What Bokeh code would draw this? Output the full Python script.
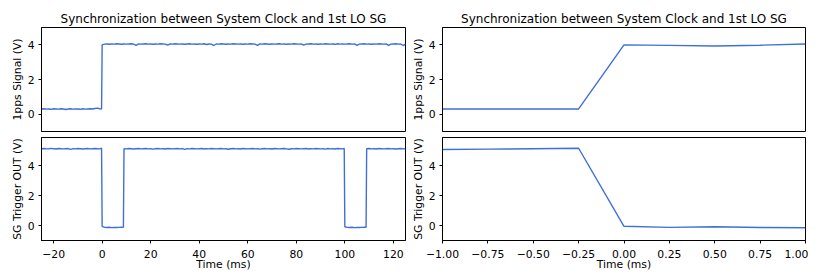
import numpy as np
from bokeh.plotting import figure
from bokeh.layouts import row, column
from bokeh.models import Range1d, FixedTicker, CustomJSTickFormatter
from bokeh.embed import file_html
from bokeh.resources import INLINE

TITLE = "Synchronization between System Clock and 1st LO SG"
YLAB_TOP = "1pps Signal (V)"
YLAB_BOT = "SG Trigger OUT (V)"
XLAB = "Time (ms)"

# ---- wide view (ms) : 1pps signal ----
pps_pre = [0.30, 0.31, 0.29, 0.30, 0.28, 0.31, 0.30, 0.29, 0.31, 0.30,
           0.27, 0.30, 0.31, 0.29, 0.30, 0.30, 0.28, 0.31, 0.29, 0.30,
           0.31, 0.30, 0.33, 0.35, 0.31, 0.30]            # t=-25..-1, -0.25
pps_post = [4.00, 4.04, 4.05, 4.03, 4.05, 4.04, 4.06, 4.05, 4.03, 4.05,
            4.04, 4.05, 4.06, 4.04, 3.97, 4.05, 4.04, 4.05, 4.06, 4.04,
            4.05, 4.03, 4.05, 4.04, 4.06, 4.05, 4.04, 3.98, 4.05, 4.04,
            4.06, 4.05, 4.04, 4.05, 4.03, 4.05, 4.06, 4.04, 4.05, 4.03,
            4.05, 4.04, 4.06, 4.02, 4.05, 4.04, 3.96, 4.05, 4.04, 4.06,
            4.05, 4.03, 4.05, 4.04, 4.06, 4.05, 4.04, 4.05, 4.03, 4.05,
            4.04, 4.06, 4.05, 4.04, 3.97, 4.05, 4.04, 4.06, 4.05, 4.03,
            4.05, 4.04, 4.05, 4.06, 4.04, 4.05, 4.03, 4.05, 4.04, 4.06,
            4.05, 4.04, 4.05, 3.98, 4.04, 4.05, 4.06, 4.04, 4.05, 4.03,
            4.05, 4.04, 4.06, 4.05, 4.04, 4.05, 4.03, 4.06, 4.04, 4.05,
            4.04, 4.05, 4.06, 4.04, 4.05, 3.97, 4.04, 4.05, 4.06, 4.04,
            4.05, 4.03, 4.05, 4.04, 4.06, 4.05, 4.04, 4.05, 3.97, 4.04,
            4.05, 4.06, 4.04, 4.05, 3.96, 4.04]              # t=0..125
pps_t = np.concatenate([np.arange(-25, 0), [-0.25], np.arange(0, 126)])
pps_v = pps_pre + pps_post

# ---- wide view (ms) : SG trigger out ----
trig_pre = [5.15, 5.16, 5.14, 5.15, 5.17, 5.15, 5.13, 5.16, 5.15, 5.14,
            5.15, 5.16, 5.10, 5.15, 5.14, 5.16, 5.15, 5.13, 5.15, 5.16,
            5.14, 5.15, 5.16, 5.15, 5.14, 5.18]           # t=-25..-1, -0.25
trig_low1 = [-0.05, -0.12, -0.13, -0.11, -0.14, -0.12, -0.13, -0.12, -0.11,
             -0.12]                                        # t=0..8, 8.75
trig_high1 = [5.15, 5.14, 5.16, 5.15, 5.13, 5.15, 5.16, 5.14, 5.15, 5.16,
              5.14, 5.15, 5.12, 5.15, 5.16, 5.14, 5.15, 5.13, 5.16, 5.15,
              5.14, 5.15, 5.16, 5.14, 5.15, 5.10, 5.15, 5.14, 5.16, 5.15,
              5.14, 5.15, 5.16, 5.13, 5.15, 5.14, 5.16, 5.15, 5.14, 5.15,
              5.16, 5.14, 5.15, 5.11, 5.15, 5.16, 5.14, 5.15, 5.13, 5.16,
              5.15, 5.14, 5.15, 5.16, 5.14, 5.15, 5.12, 5.15, 5.16, 5.14,
              5.15, 5.13, 5.16, 5.15, 5.14, 5.15, 5.16, 5.14, 5.11, 5.15,
              5.14, 5.16, 5.15, 5.14, 5.15, 5.16, 5.13, 5.15, 5.14, 5.16,
              5.15, 5.14, 5.15, 5.12, 5.16, 5.14, 5.15, 5.13, 5.16, 5.15,
              5.14, 5.16]                                  # t=9..99, 99.75
trig_low2 = [-0.08, -0.12, -0.13, -0.11, -0.14, -0.12, -0.13, -0.12, -0.11,
             -0.12]                                        # t=100..108, 108.75
trig_high2 = [5.15, 5.16, 5.14, 5.15, 5.13, 5.16, 5.15, 5.14, 5.15, 5.16,
              5.14, 5.15, 5.13, 5.15, 5.16, 5.14, 5.15]   # t=109..125
trig_t = np.concatenate([np.arange(-25, 0), [-0.25], np.arange(0, 9), [8.75],
                         np.arange(9, 100), [99.75], np.arange(100, 109), [108.75],
                         np.arange(109, 126)])
trig_v = trig_pre + trig_low1 + trig_high1 + trig_low2 + trig_high2

# ---- zoomed view (ms) ----
zoom_t = [-1.0, -0.75, -0.5, -0.25, 0.0, 0.25, 0.5, 0.75, 1.0]
zoom_pps = [0.30, 0.30, 0.30, 0.30, 4.00, 3.97, 3.93, 3.98, 4.05]
zoom_trig = [5.10, 5.12, 5.15, 5.18, -0.05, -0.12, -0.08, -0.13, -0.15]

LINE = "#3f6fd9"
FONT = "DejaVu Sans"
LBL = "10.8px"


def style(p, ylab, show_x, xfmt_code, xticks):
    p.outline_line_color = "black"
    p.outline_line_width = 1
    p.grid.visible = False
    p.background_fill_color = "white"
    p.border_fill_color = "white"
    for ax in (p.xaxis[0], p.yaxis[0]):
        ax.axis_line_color = "black"
        ax.major_tick_line_color = "black"
        ax.major_tick_out = 3
        ax.major_tick_in = 0
        ax.minor_tick_line_color = None
        ax.major_label_text_font = FONT
        ax.major_label_text_font_size = LBL
        ax.major_label_text_color = "black"
        ax.axis_label_text_font = FONT
        ax.axis_label_text_font_size = LBL
        ax.axis_label_text_font_style = "normal"
        ax.axis_label_text_color = "black"
    p.yaxis[0].ticker = FixedTicker(ticks=[0, 2, 4])
    p.yaxis[0].axis_label = ylab
    p.yaxis[0].major_label_standoff = 4
    p.yaxis[0].axis_label_standoff = 1
    if show_x:
        p.xaxis[0].ticker = FixedTicker(ticks=xticks)
        p.xaxis[0].formatter = CustomJSTickFormatter(code=xfmt_code)
        p.xaxis[0].axis_label = XLAB
        p.xaxis[0].major_label_standoff = 6
        p.xaxis[0].axis_label_standoff = -3
    else:
        p.xaxis.visible = False


fmt0 = "return (tick < 0 ? '\u2212' : '') + Math.abs(tick).toFixed(0);"
fmt2 = "return (tick < -1e-9 ? '\u2212' : '') + Math.abs(tick).toFixed(2);"
ticks_wide = [-20, 0, 20, 40, 60, 80, 100, 120]
ticks_zoom = [-1.0, -0.75, -0.5, -0.25, 0.0, 0.25, 0.5, 0.75, 1.0]


def make_top(xr, t, v, w, bl):
    p = figure(width=w, height=134, output_backend="svg", toolbar_location=None,
               x_range=xr, y_range=Range1d(-1, 5),
               min_border_left=bl, min_border_right=3, min_border_top=27,
               min_border_bottom=3)
    p.title.text = TITLE
    p.title.align = "center"
    p.title.text_font = FONT
    p.title.text_font_size = "12px"
    p.title.text_font_style = "normal"
    p.title.text_color = "black"
    p.title.standoff = 4
    p.line(t, v, line_color=LINE, line_width=1.4)
    style(p, YLAB_TOP, False, None, None)
    return p


def make_bot(xr, t, v, code, ticks, w, bl):
    p = figure(width=w, height=139, output_backend="svg", toolbar_location=None,
               x_range=xr, y_range=Range1d(-1.0, 5.9),
               min_border_left=bl, min_border_right=3, min_border_top=3,
               min_border_bottom=32)
    p.line(t, v, line_color=LINE, line_width=1.4)
    style(p, YLAB_BOT, True, code, ticks)
    return p


xr_wide = Range1d(-25, 125)
xr_zoom = Range1d(-1, 1)
p1 = make_top(xr_wide, pps_t, pps_v, 408, 41)
p2 = make_bot(xr_wide, trig_t, trig_v, fmt0, ticks_wide, 408, 41)
p3 = make_top(xr_zoom, zoom_t, zoom_pps, 400, 33)
p4 = make_bot(xr_zoom, zoom_t, zoom_trig, fmt2, ticks_zoom, 400, 33)

layout = row(column(p1, p2), column(p3, p4))
open("out.html", "w").write(file_html(layout, INLINE))
